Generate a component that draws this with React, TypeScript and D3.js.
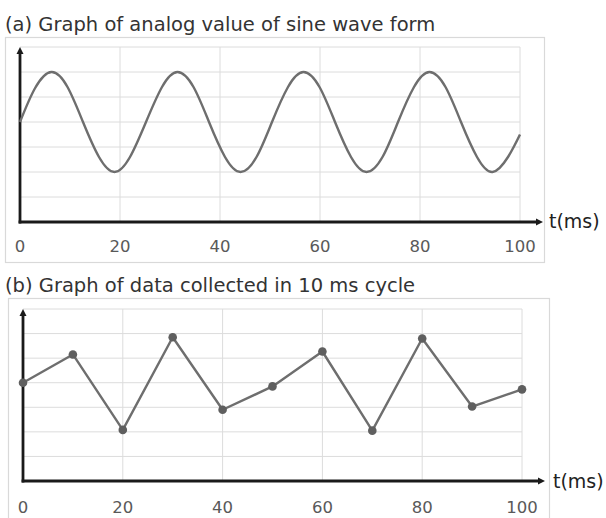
import React from "react";
import * as d3 from "d3";

// ---- Data ----
const xTicks = [0, 20, 40, 60, 80, 100];
const yGridLevels = [1, 2, 3, 4, 5, 6, 7];

// (a) analog sine wave
const analogTimes = [0, 3, 6.3, 9.5, 12.6, 15.8, 18.9, 22, 25.2, 28.4, 31.5, 34.7, 37.8, 41, 44.1, 47.3, 50.4, 53.6, 56.7, 59.9, 63, 66.2, 69.3, 72.5, 75.6, 78.8, 81.9, 85.1, 88.2, 91.4, 94.5, 97.6, 100];
const analogValues = [4.0, 5.35, 6.0, 5.4, 4.0, 2.6, 2.0, 2.6, 4.0, 5.4, 6.0, 5.4, 4.0, 2.6, 2.0, 2.6, 4.0, 5.4, 6.0, 5.4, 4.0, 2.6, 2.0, 2.6, 4.0, 5.4, 6.0, 5.4, 4.0, 2.6, 2.0, 2.6, 3.5];

// (b) sampled every 10 ms
const sampleTimes = [0, 10, 20, 30, 40, 50, 60, 70, 80, 90, 100];
const sampleValues = [4.0, 5.15, 2.08, 5.85, 2.9, 3.85, 5.27, 2.05, 5.8, 3.03, 3.73];

const titleA = "(a) Graph of analog value of sine wave form";
const titleB = "(b) Graph of data collected in 10 ms cycle";
const axisLabel = "t(ms)";

const FONT = "'DejaVu Sans', Verdana, sans-serif";

type PanelProps = {
  title: string;
  titleY: number;
  box: { x0: number; y0: number; x1: number; y1: number };
  plot: { x0: number; x1: number; y0: number; y1: number };
  tickY: number;
  labelX: number;
  labelY: number;
  times: number[];
  values: number[];
  smooth: boolean;
  markers: boolean;
};

function Panel(p: PanelProps) {
  const x = d3.scaleLinear().domain([0, 100]).range([p.plot.x0, p.plot.x1]);
  const y = d3.scaleLinear().domain([0, 7]).range([p.plot.y0, p.plot.y1]);
  const pts: [number, number][] = p.times.map((t, i) => [t, p.values[i]]);
  const line = d3
    .line<[number, number]>()
    .x((d) => x(d[0]))
    .y((d) => y(d[1]))
    .curve(p.smooth ? d3.curveNatural : d3.curveLinear);
  const axisY = y(0);
  const topY = y(7);
  const x0 = x(0);
  const arrowEnd = x(100) + 23;
  return (
    <g>
      <text x={5} y={p.titleY} fontFamily={FONT} fontSize={19.5} fill="#333">
        {p.title}
      </text>
      <rect
        x={p.box.x0 + 0.5}
        y={p.box.y0 + 0.5}
        width={p.box.x1 - p.box.x0}
        height={p.box.y1 - p.box.y0}
        fill="#fff"
        stroke="#d9d9d9"
        strokeWidth={1.2}
      />
      {yGridLevels.map((v) => (
        <line key={"h" + v} x1={x0} x2={x(100)} y1={y(v)} y2={y(v)} stroke="#dcdcdc" strokeWidth={1} />
      ))}
      {xTicks.filter((t) => t > 0).map((t) => (
        <line key={"v" + t} x1={x(t)} x2={x(t)} y1={topY} y2={axisY} stroke="#dcdcdc" strokeWidth={1} />
      ))}
      {/* axes */}
      <line x1={x0} x2={x0} y1={axisY + 1.5} y2={topY + 5} stroke="#1a1a1a" strokeWidth={2.8} />
      <path d={`M${x0 - 3.5},${topY + 7} L${x0},${topY} L${x0 + 3.5},${topY + 7} Z`} fill="#1a1a1a" />
      <line x1={x0 - 1.4} x2={arrowEnd - 5} y1={axisY} y2={axisY} stroke="#1a1a1a" strokeWidth={2.8} />
      <path d={`M${arrowEnd - 7},${axisY - 3.5} L${arrowEnd},${axisY} L${arrowEnd - 7},${axisY + 3.5} Z`} fill="#1a1a1a" />
      <text x={p.labelX} y={p.labelY} fontFamily={FONT} fontSize={19} fill="#222">
        {axisLabel}
      </text>
      {xTicks.map((t) => (
        <text key={"t" + t} x={x(t)} y={p.tickY} textAnchor="middle" fontFamily={FONT} fontSize={16.5} fill="#595959">
          {t}
        </text>
      ))}
      <path d={line(pts) || ""} fill="none" stroke="#6e6e6e" strokeWidth={2.4} strokeLinejoin="round" />
      {p.markers &&
        pts.map((d, i) => <circle key={"m" + i} cx={x(d[0])} cy={y(d[1])} r={4.3} fill="#5f5f5f" />)}
    </g>
  );
}

export default function App() {
  return (
    <svg
      width={606}
      height={518}
      style={{ position: "fixed", left: 0, top: 0, background: "#fff" }}
    >
      <rect x={0} y={0} width={606} height={518} fill="#fff" />
      <Panel
        title={titleA}
        titleY={31}
        box={{ x0: 5, y0: 37, x1: 544, y1: 262 }}
        plot={{ x0: 20, x1: 520, y0: 222, y1: 47 }}
        tickY={252}
        labelX={549}
        labelY={228}
        times={analogTimes}
        values={analogValues}
        smooth={true}
        markers={false}
      />
      <Panel
        title={titleB}
        titleY={292}
        box={{ x0: 8, y0: 298, x1: 549, y1: 540 }}
        plot={{ x0: 23, x1: 522, y0: 481, y1: 309 }}
        tickY={513}
        labelX={553}
        labelY={488}
        times={sampleTimes}
        values={sampleValues}
        smooth={false}
        markers={true}
      />
    </svg>
  );
}
